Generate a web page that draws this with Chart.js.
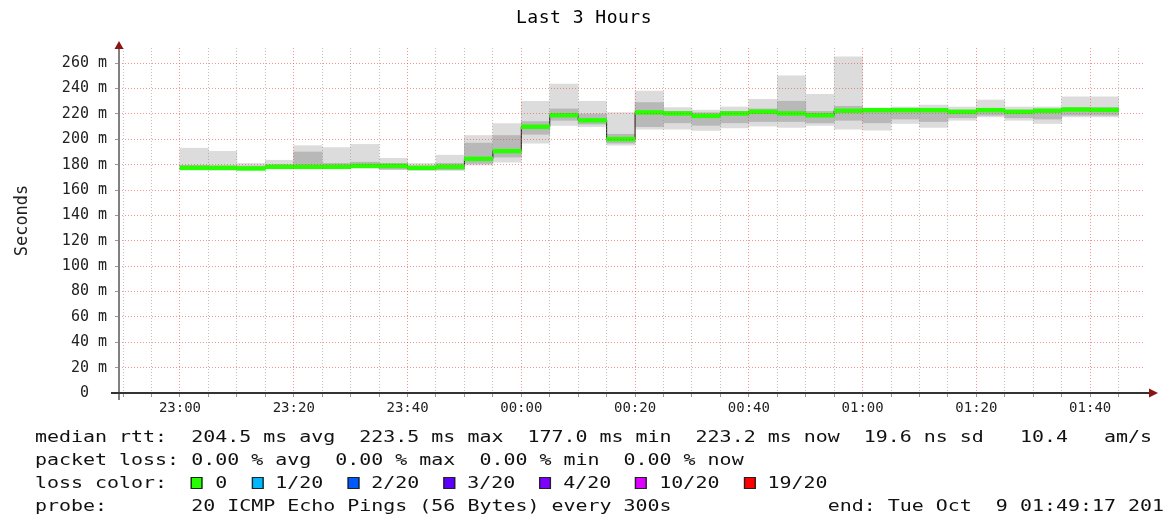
<!DOCTYPE html>
<html>
<head>
<meta charset="utf-8">
<title>Last 3 Hours</title>
<script src="https://cdn.jsdelivr.net/npm/chart.js@4.4.1/dist/chart.umd.min.js"></script>
<style>
  html, body { margin: 0; padding: 0; background: #fff; }
  #wrap { position: relative; width: 1163px; height: 520px; overflow: hidden; }
  #chart { position: absolute; left: 0; top: 0; }
  #title {
    position: absolute; left: 484px; width: 200px; top: 6px; text-align: center;
    font-family: 'DejaVu Sans Mono', monospace; font-size: 18px; line-height: 22px;
    letter-spacing: 0.5px; color: #000;
  }
  #legend {
    position: absolute; left: 35px; top: 426px;
    font-family: 'DejaVu Sans Mono', monospace; font-size: 15px; color: #111;
    white-space: pre; transform: scaleX(1.33); transform-origin: 0 0;
  }
  #legend div { height: 23px; line-height: 23px; }
  .box { display: inline-block; width: 9px; height: 12px; border: 1px solid #222;
         box-sizing: border-box; vertical-align: -1px; }
</style>
</head>
<body>
<div id="wrap">
  <canvas id="chart" width="1163" height="520"></canvas>
  <div id="title">Last 3 Hours</div>
  <div id="legend"></div>
</div>
<script>
// start of each 5 minute step
const stepStarts = ['23:00','23:05','23:10','23:15','23:20','23:25','23:30','23:35','23:40','23:45','23:50','23:55',
                    '00:00','00:05','00:10','00:15','00:20','00:25','00:30','00:35','00:40','00:45','00:50','00:55',
                    '01:00','01:05','01:10','01:15','01:20','01:25','01:30','01:35','01:40'];
// median rtt (ms)
const median   = [177.5,177.5,177.0,178.3,178.3,178.3,179.0,179.0,177.5,178.3,184.6,190.7,
                  209.9,219.0,215.0,200.2,221.2,220.4,218.5,220.4,221.7,220.4,219.0,222.5,
                  223.0,223.0,223.0,221.7,223.0,221.7,222.5,223.5,223.2];
// smoke: full ping spread
const smokeMin = [176.0,175.7,176.5,177.0,177.0,177.0,177.5,176.0,175.5,175.5,179.7,182.0,
                  197.0,211.0,210.0,195.4,208.0,208.0,207.0,209.0,210.4,209.4,211.0,208.0,
                  207.2,212.5,209.4,215.0,217.7,215.0,212.5,217.7,217.7];
const smokeMax = [193.0,190.5,181.0,183.5,195.0,193.5,196.0,185.0,181.0,187.5,203.0,212.5,
                  230.0,243.5,230.0,221.0,238.0,225.0,223.0,225.5,231.5,250.0,235.5,265.0,
                  224.5,225.5,227.0,225.5,231.0,225.5,225.5,233.5,233.5];
// smoke: dense middle of the pings
const smokeLo  = [176.0,176.0,176.5,177.0,178.0,177.0,178.0,176.5,176.0,176.0,181.0,186.0,
                  204.0,215.0,212.0,197.0,210.0,213.0,211.0,213.0,214.0,214.0,213.0,215.0,
                  213.0,216.0,214.0,217.0,219.0,217.0,216.0,219.0,219.0];
const smokeHi  = [179.5,179.0,179.0,180.0,190.0,181.0,182.0,181.0,179.0,181.0,197.0,203.0,
                  214.0,224.0,220.0,204.0,229.0,222.0,221.0,222.0,224.0,230.0,222.0,226.0,
                  224.0,224.0,224.0,223.0,224.0,223.0,224.0,225.0,225.0];

const timeLabels = ['23:00','23:20','23:40','00:00','00:20','00:40','01:00','01:20','01:40'];
const windowStart = '22:49:17';
const windowEnd = '01:49:17';

const statsRtt  = ['204.5 ms avg','223.5 ms max','177.0 ms min','223.2 ms now','19.6 ns sd ','10.4   am/s'];
const statsLoss = ['0.00 % avg','0.00 % max','0.00 % min','0.00 % now'];
const lossLabels = ['0','1/20','2/20','3/20','4/20','10/20','19/20'];
const lossColors = ['#26ff00','#00b8ff','#0059ff','#5e00ff','#7e00ff','#dd00ff','#ff0000'];
const probeText = '20 ICMP Echo Pings (56 Bytes) every 300s';
const endText = 'end: Tue Oct  9 01:49:17 2012';

const STEP = 5;
const MONO = "'DejaVu Sans Mono', monospace";

function toMin(t){
    const p = t.split(':').map(Number);
    const m = p[0]*60 + p[1] + (p[2] || 0)/60;
    return p[0] >= 12 ? m - 1440 : m;
}
function fmt(m){
    let v = Math.round(m);
    if(v < 0) v += 1440;
    return String(Math.floor(v/60)).padStart(2,'0') + ':' + String(v%60).padStart(2,'0');
}

// legend (html text)
(function buildLegend(){
    const el = document.getElementById('legend');
    const row1 = 'median rtt:  ' + statsRtt.join('  ');
    const row2 = 'packet loss: ' + statsLoss.join('  ');
    let row3 = 'loss color:  ';
    lossLabels.forEach((l,i)=>{
        row3 += '<span class="box" style="background:' + lossColors[i] + '"></span> ' + l + '  ';
    });
    const row4 = 'probe:       ' + probeText + '             ' + endText;
    el.innerHTML = '<div>' + row1 + '</div><div>' + row2 + '</div><div>' + row3 + '</div><div>' + row4 + '</div>';
})();

const mids = stepStarts.map(t => toMin(t) + STEP/2);
const medianPts = stepStarts.map((t,i) => ({x: toMin(t), y: median[i]}));
medianPts.push({x: toMin(stepStarts[stepStarts.length-1]) + STEP, y: median[median.length-1]});

const xGrid = [];
for(let m = Math.ceil(toMin(windowStart)/STEP)*STEP; m <= toMin(windowEnd) - 4; m += STEP) xGrid.push(m);
const yGrid = [];
for(let v = 0; v <= 270; v += 10) yGrid.push(v);

const RED = 'rgba(235,60,60,0.55)';
const GRAY = 'rgba(140,140,140,0.55)';

const axisArrows = {
    id: 'axisArrows',
    afterDraw(chart){
        const {ctx, chartArea: a} = chart;
        ctx.save();
        ctx.lineWidth = 2;
        ctx.strokeStyle = '#808080';
        ctx.beginPath(); ctx.moveTo(a.left, a.bottom + 7); ctx.lineTo(a.left, a.top - 3); ctx.stroke();
        ctx.strokeStyle = '#333';
        ctx.beginPath(); ctx.moveTo(a.left - 8, a.bottom); ctx.lineTo(a.right + 7, a.bottom); ctx.stroke();
        ctx.fillStyle = '#8b1414';
        ctx.beginPath(); ctx.moveTo(a.left, a.top - 7); ctx.lineTo(a.left - 4.5, a.top + 1); ctx.lineTo(a.left + 4.5, a.top + 1); ctx.closePath(); ctx.fill();
        ctx.beginPath(); ctx.moveTo(a.right + 15, a.bottom); ctx.lineTo(a.right + 6, a.bottom - 4.5); ctx.lineTo(a.right + 6, a.bottom + 4.5); ctx.closePath(); ctx.fill();
        ctx.restore();
    }
};

const barOpts = { type: 'bar', grouped: false, barPercentage: 1, categoryPercentage: 1, borderWidth: 0 };

new Chart(document.getElementById('chart').getContext('2d'), {
    type: 'bar',
    data: {
        datasets: [
            { ...barOpts, label: 'smoke', data: mids.map((x,i) => ({x, y: [smokeMin[i], smokeMax[i]]})), backgroundColor: '#dcdcdc', order: 4 },
            { ...barOpts, label: 'smoke core', data: mids.map((x,i) => ({x, y: [smokeLo[i], smokeHi[i]]})), backgroundColor: '#b8b8b8', order: 3 },
            { type: 'line', label: 'median', data: medianPts, stepped: 'before', borderColor: '#1a1a1a', borderWidth: 1, pointRadius: 0, order: 2 },
            { ...barOpts, label: 'loss 0', data: mids.map((x,i) => ({x, y: [median[i] - 1.5, median[i] + 1.5]})), backgroundColor: lossColors[0], order: 1 }
        ]
    },
    options: {
        responsive: false,
        animation: false,
        layout: { padding: { left: 0, right: 20, top: 48, bottom: 97 } },
        plugins: {
            legend: { display: false },
            tooltip: { enabled: false },
            title: { display: false }
        },
        scales: {
            x: {
                type: 'linear', min: toMin(windowStart), max: toMin(windowEnd), offset: false,
                afterBuildTicks: s => { s.ticks = xGrid.map(v => ({value: v})); },
                afterFit: s => { s.height = 30; },
                grid: { offset: false, z: 1, lineWidth: 1, tickLength: 4,
                        color: c => (c.tick && c.tick.value % 20 === 0) ? RED : GRAY,
                        tickColor: '#999' },
                border: { display: false, dash: [1, 2] },
                ticks: { autoSkip: false, maxRotation: 0, minRotation: 0, padding: 3, color: '#222',
                         font: { family: MONO, size: 14 },
                         callback: v => timeLabels.includes(fmt(v)) ? fmt(v) : '' }
            },
            y: {
                type: 'linear', min: 0, max: 272,
                afterBuildTicks: s => { s.ticks = yGrid.map(v => ({value: v})); },
                afterFit: s => { s.width = 119; },
                grid: { z: 1, lineWidth: 1, tickLength: 4,
                        color: c => (c.tick && c.tick.value % 20 === 0) ? RED : GRAY,
                        tickColor: '#999' },
                border: { display: false, dash: [1, 2] },
                ticks: { padding: 8, color: '#222', font: { family: MONO, size: 15 },
                         callback: v => v === 0 ? '0  ' : (v % 20 === 0 ? v + ' m' : '') },
                title: { display: true, text: 'Seconds', color: '#222',
                         font: { family: MONO, size: 17 }, padding: { top: 12, bottom: 0 } }
            }
        }
    },
    plugins: [axisArrows]
});
</script>
</body>
</html>
